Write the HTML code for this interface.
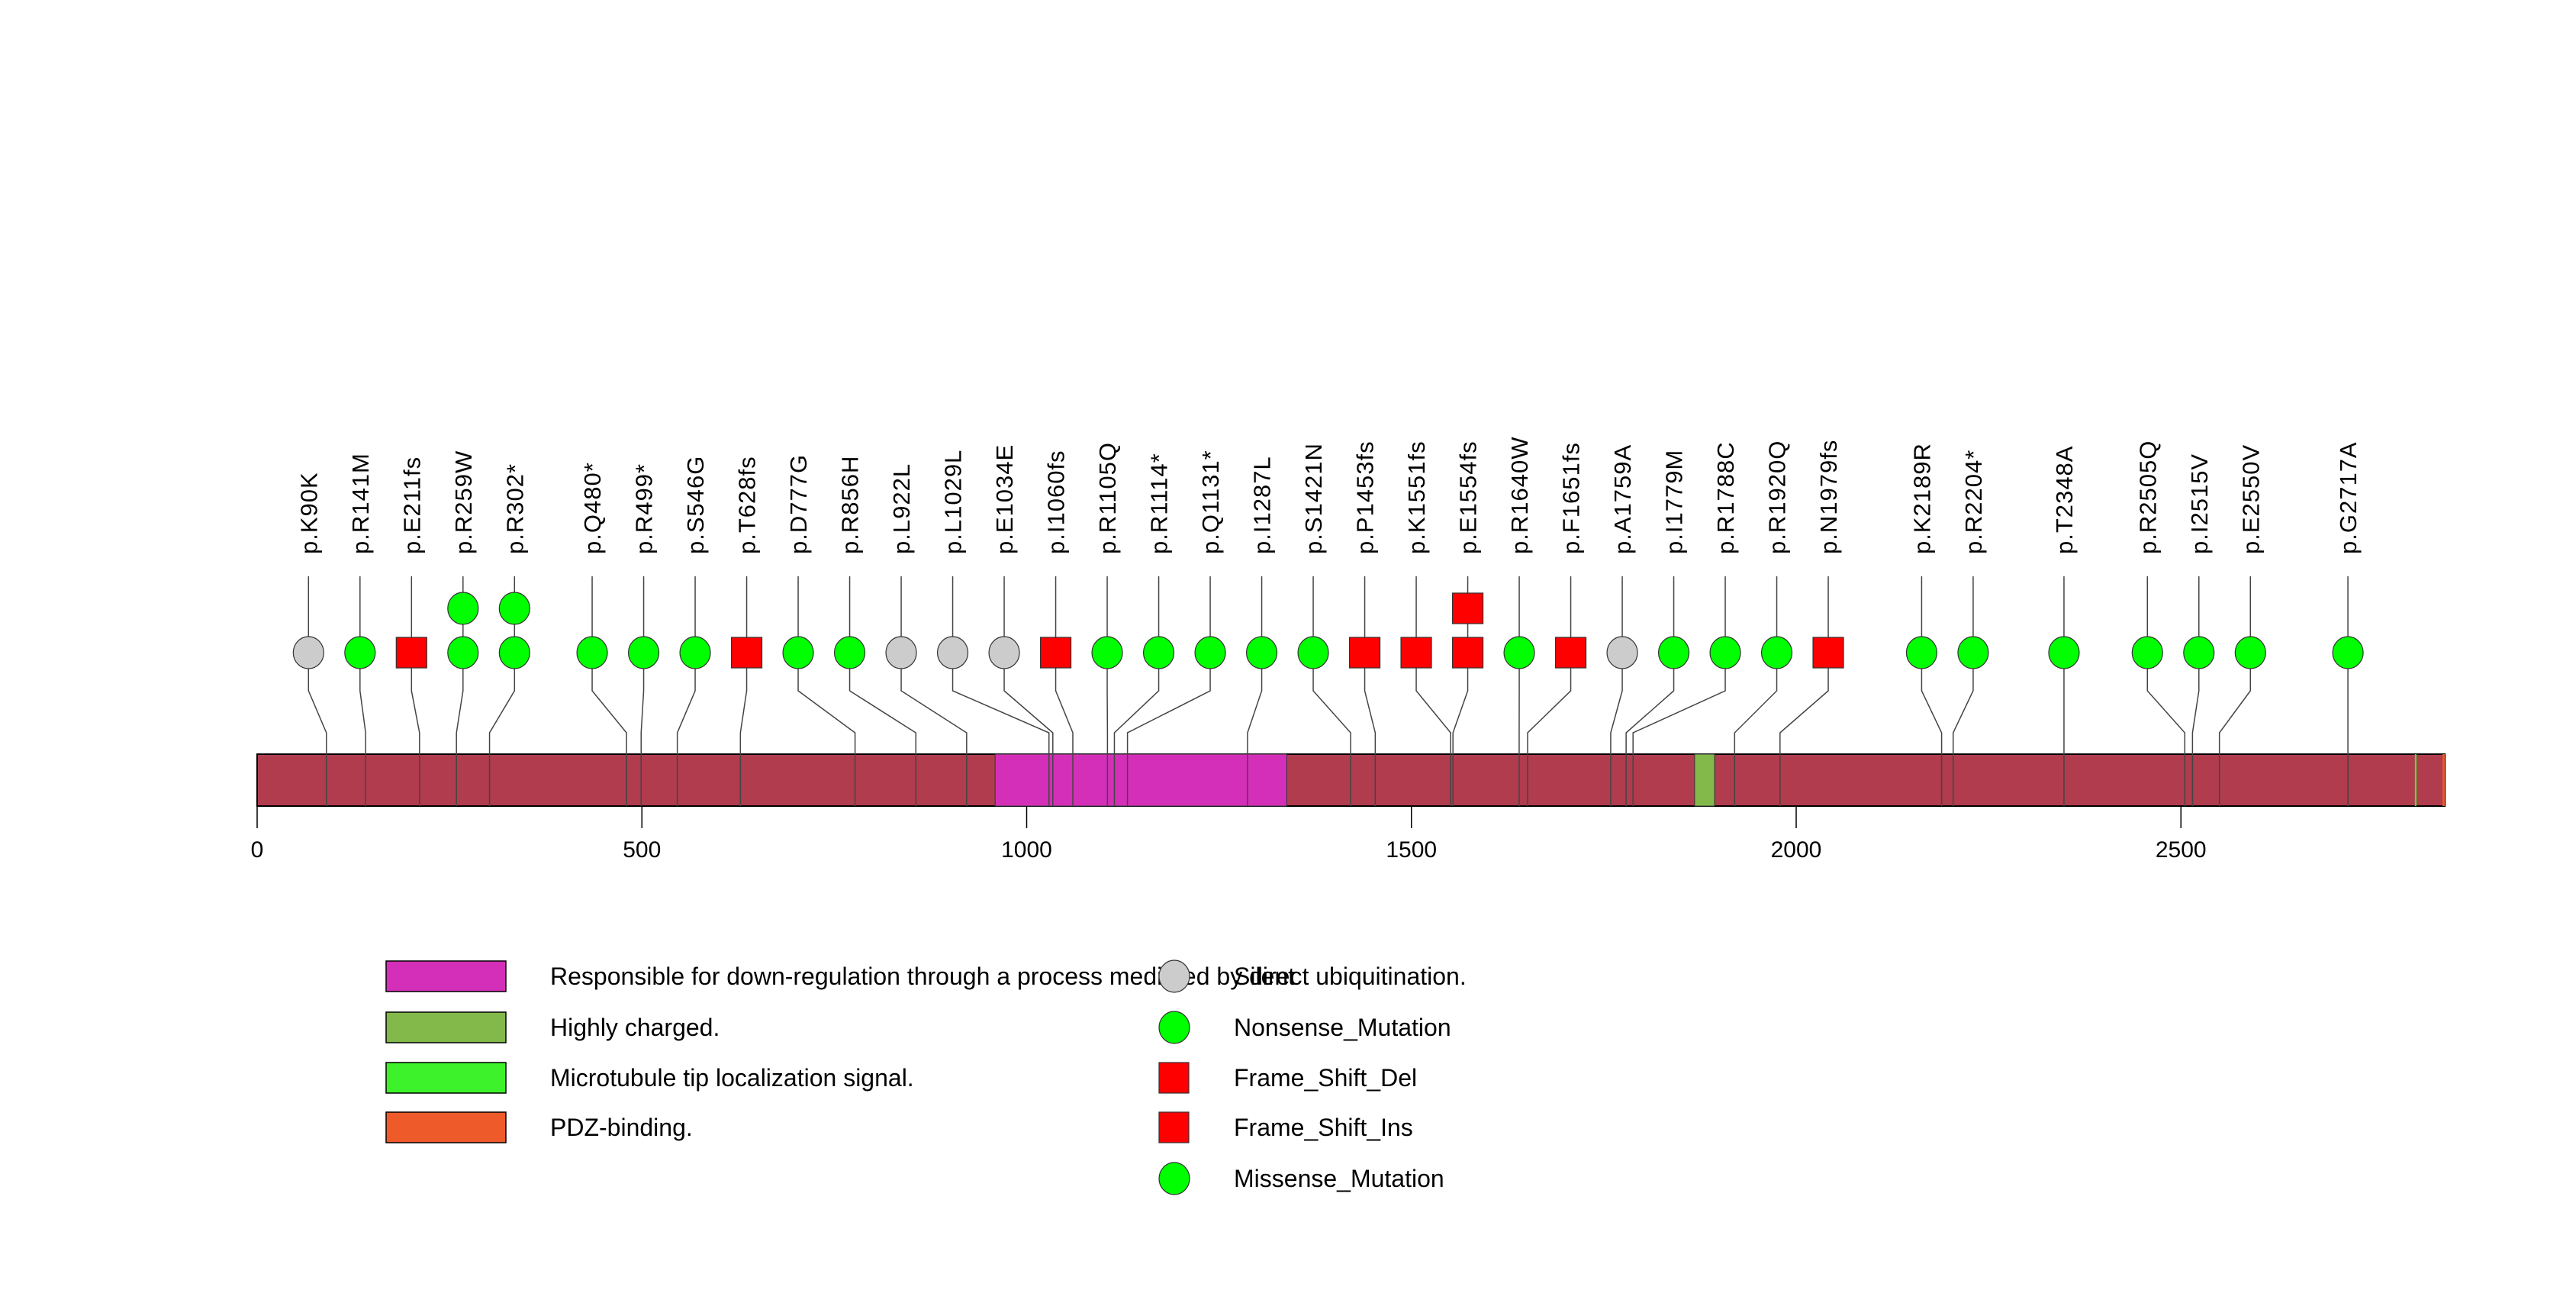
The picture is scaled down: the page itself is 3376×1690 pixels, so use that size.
<!DOCTYPE html>
<html><head><meta charset="utf-8"><style>
html,body{margin:0;padding:0;background:#fff;}
svg{display:block;font-family:"Liberation Sans",Arial,sans-serif;}
</style></head><body>
<svg id="chart" width="3376" height="1690" viewBox="0 0 3376 1690" xmlns="http://www.w3.org/2000/svg">
<rect width="3376" height="1690" fill="#fff"/>
<g id="domains"></g>
<g id="stems"></g>
<g id="marks"></g>
<g id="labels"></g>
<g id="axis"></g>
<g id="legend"></g>
</svg>
<script>
const proteinLength = 2843;
const mutLabels = ["p.K90K","p.R141M","p.E211fs","p.R259W","p.R302*","p.Q480*","p.R499*","p.S546G","p.T628fs","p.D777G","p.R856H","p.L922L","p.L1029L","p.E1034E","p.I1060fs","p.R1105Q","p.R1114*","p.Q1131*","p.I1287L","p.S1421N","p.P1453fs","p.K1551fs","p.E1554fs","p.R1640W","p.F1651fs","p.A1759A","p.I1779M","p.R1788C","p.R1920Q","p.N1979fs","p.K2189R","p.R2204*","p.T2348A","p.R2505Q","p.I2515V","p.E2550V","p.G2717A"];
const mutPositions = [90,141,211,259,302,480,499,546,628,777,856,922,1029,1034,1060,1105,1114,1131,1287,1421,1453,1551,1554,1640,1651,1759,1779,1788,1920,1979,2189,2204,2348,2505,2515,2550,2717];
const mutTypes = ["S","N","F","N","N","N","N","M","F","M","M","S","S","S","F","M","N","N","M","M","F","F","F","M","F","S","M","M","M","F","M","N","M","M","M","M","M"];
const mutCounts = [1,1,1,2,2,1,1,1,1,1,1,1,1,1,1,1,1,1,1,1,1,1,2,1,1,1,1,1,1,1,1,1,1,1,1,1,1];
const domainNames = ["Responsible for down-regulation through a process mediated by direct ubiquitination.","Highly charged.","Microtubule tip localization signal.","PDZ-binding."];
const domainStarts = [959,1868,2804,2840];
const domainEnds = [1338,1894,2806,2843];
const domainColors = ["#d42fb8","#82b94a","#3df22a","#ee5a2a"];
const axisTicks = [0,500,1000,1500,2000,2500];
const legendTypes = ["Silent","Nonsense_Mutation","Frame_Shift_Del","Frame_Shift_Ins","Missense_Mutation"];

const NS="http://www.w3.org/2000/svg";
const X0=337, PX=1.0085;
const xs = aa => X0 + aa*PX;
const BAR_T=988, BAR_B=1056;
function el(tag,attrs,parent){const e=document.createElementNS(NS,tag);for(const k in attrs)e.setAttribute(k,attrs[k]);parent.appendChild(e);return e;}
const colorOf = t => t==="S"?"#cccccc":(t==="F"?"#ff0000":"#00ff00");

const gd=document.getElementById('domains');
const bar=el('rect',{x:xs(0),y:BAR_T,width:xs(proteinLength)-xs(0),height:BAR_B-BAR_T,fill:"#b03c4e",stroke:"#000","stroke-width":2},gd);


domainStarts.forEach((s,i)=>{
  const r=el('rect',{x:xs(s),y:BAR_T,width:Math.max(2,xs(domainEnds[i])-xs(s)),height:BAR_B-BAR_T,fill:domainColors[i],stroke:i<2?"#333":"none","stroke-width":1},gd);
  
  
});

const D=67.5;
const base=mutPositions.map(xs);
let blocks=[];
base.forEach((x,i)=>{
  blocks.push({first:i,n:1});
  while(blocks.length>1){
    const b=blocks[blocks.length-1], a=blocks[blocks.length-2];
    const st=blk=>{let s=0;for(let k=0;k<blk.n;k++) s+=base[blk.first+k]-k*D;return s/blk.n;};
    if(st(b) < st(a)+a.n*D){
      blocks.pop();blocks.pop();
      blocks.push({first:a.first,n:a.n+b.n});
    } else break;
  }
});
const lx=[];
blocks.forEach(b=>{
  let s=0;for(let k=0;k<b.n;k++) s+=base[b.first+k]-k*D;
  const start=s/b.n;
  for(let k=0;k<b.n;k++) lx[b.first+k]=start+k*D;
});

const gs=document.getElementById('stems'), gm=document.getElementById('marks'), gl=document.getElementById('labels');
const ROW1=855, ROWH=58, R=20;
mutPositions.forEach((p,i)=>{
  const x=lx[i], ax=xs(p);
  const nm=mutLabels[i].replace('p.','').replace('*','x').toLowerCase();
  const st=el('polyline',{points:`${x},755 ${x},905 ${ax},960 ${ax},${BAR_B}`,fill:"none",stroke:"#444","stroke-width":1.5},gs);
  
  
  for(let c=0;c<mutCounts[i];c++){
    const y=ROW1-c*ROWH;let m;
    if(mutTypes[i]==="F") m=el('rect',{x:x-R,y:y-R,width:2*R,height:2*R,fill:"#ff0000",stroke:"#333","stroke-width":1.2},gm);
    else m=el('ellipse',{cx:x,cy:y,rx:R,ry:R+1,fill:colorOf(mutTypes[i]),stroke:"#333","stroke-width":1.2},gm);
    
    
  }
  const t=el('text',{x:0,y:0,transform:`translate(${x+11},726) rotate(-90)`,"font-size":31,"letter-spacing":1,fill:"#000"},gl);
  t.textContent=mutLabels[i];
  
  
});

const ga=document.getElementById('axis');
axisTicks.forEach(v=>{
  const l=el('line',{x1:xs(v),x2:xs(v),y1:BAR_B,y2:1085,stroke:"#000","stroke-width":1.5},ga);
  
  
  const t=el('text',{x:xs(v),y:1123,"text-anchor":"middle","font-size":30,fill:"#000"},ga);
  t.textContent=v;
  
  
});

const gL=document.getElementById('legend');
const rowsY=[1279,1346,1412,1477,1544];
domainNames.forEach((n,i)=>{
  const r=el('rect',{x:506,y:rowsY[i]-20,width:157,height:40,fill:domainColors[i],stroke:"#000","stroke-width":1.5},gL);
  
  
  const t=el('text',{x:721,y:rowsY[i]+11,"font-size":32,fill:"#000"},gL);
  t.textContent=n;
  
  
});
legendTypes.forEach((n,i)=>{
  const y=rowsY[i];let m;
  if(n.startsWith("Frame")) m=el('rect',{x:1519,y:y-20,width:39,height:40,fill:"#ff0000",stroke:"#333","stroke-width":1.2},gL);
  else m=el('ellipse',{cx:1539,cy:y,rx:20,ry:21,fill:n==="Silent"?"#cccccc":"#00ff00",stroke:"#333","stroke-width":1.2},gL);
  
  
  const t=el('text',{x:1617,y:y+11,"font-size":32,fill:"#000"},gL);
  t.textContent=n;
  
  
});
</script>
</body></html>
